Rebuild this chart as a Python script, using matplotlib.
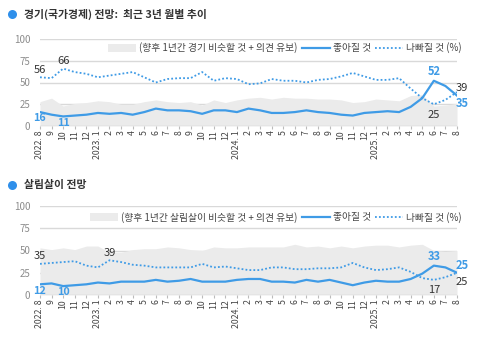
import matplotlib
matplotlib.use("Agg")
import matplotlib.pyplot as plt
from matplotlib.patches import Patch
from matplotlib.lines import Line2D

plt.rcParams['font.family'] = ['Noto Sans CJK KR', 'DejaVu Sans']

# month labels 2022.8 ~ 2025.8
months = ['2022. 8', '9', '10', '11', '12',
          '2023. 1', '2', '3', '4', '5', '6', '7', '8', '9', '10', '11', '12',
          '2024. 1', '2', '3', '4', '5', '6', '7', '8', '9', '10', '11', '12',
          '2025. 1', '2', '3', '4', '5', '6', '7', '8']

# 경기 전망
eco_good = [16, 13, 11, 12, 13, 15, 14, 15, 13, 16, 20, 18, 18, 17, 14, 18, 18, 16,
            20, 18, 15, 15, 16, 18, 16, 15, 13, 12, 15, 16, 17, 16, 22, 32, 52, 46, 35]
eco_bad = [56, 55, 66, 62, 60, 56, 58, 60, 62, 56, 50, 54, 55, 55, 62, 52, 55, 54,
           48, 49, 54, 52, 52, 50, 53, 54, 57, 61, 57, 53, 53, 55, 43, 32, 25, 30, 39]
eco_same = [28, 32, 23, 26, 27, 29, 28, 25, 25, 28, 30, 28, 27, 28, 24, 30, 27, 30,
            32, 33, 31, 33, 32, 32, 31, 31, 30, 27, 28, 31, 30, 29, 35, 36, 23, 24, 26]

# 살림살이 전망
life_good = [12, 13, 10, 11, 12, 14, 13, 15, 15, 15, 17, 15, 16, 18, 15, 15, 15, 17,
             18, 18, 15, 15, 14, 17, 15, 17, 14, 11, 14, 16, 15, 15, 18, 24, 33, 31, 25]
life_bad = [35, 36, 37, 38, 33, 31, 39, 37, 34, 33, 31, 31, 31, 31, 35, 31, 32, 30,
            28, 28, 31, 31, 29, 29, 30, 30, 31, 36, 31, 28, 29, 31, 26, 19, 17, 20, 25]
life_same = [53, 51, 53, 51, 55, 55, 48, 48, 51, 52, 52, 54, 53, 51, 50, 54, 53, 53,
             54, 54, 54, 54, 57, 54, 55, 53, 55, 53, 55, 56, 56, 54, 56, 57, 50, 49, 50]

BLUE = '#3f9be6'
GRAY_AREA = '#ebebeb'
DARK = '#333333'
DOTS = (0, (1, 1.2))

fig = plt.figure(figsize=(5, 3.42), dpi=100)


def draw_panel(ax, good, bad, same, same_label, labels_good, labels_bad, end_offsets, leg_y):
    x = list(range(len(months)))
    ax.fill_between(x, 0, same, color=GRAY_AREA, lw=0, zorder=1)
    for v in [25, 50, 75, 100]:
        ax.axhline(v, color='#d9d9d9', lw=1.0, zorder=0.5)
    ax.axhline(0, color='#cfcfcf', lw=1.0, zorder=2)
    ax.plot(x, good, color=BLUE, lw=1.6, zorder=4)
    ax.plot(x, bad, color=BLUE, lw=1.3, ls=DOTS, zorder=4)
    ax.set_xlim(0, len(months) - 1)
    ax.set_ylim(0, 100)
    ax.set_yticks([0, 25, 50, 75, 100])
    ax.tick_params(axis='y', length=0, labelsize=7, labelcolor='#8c8c8c', pad=7)
    ax.set_xticks(x)
    ax.set_xticklabels(months, rotation=90, fontsize=6.3, color='#444444')
    ax.tick_params(axis='x', length=2, color='#bbbbbb', pad=1)
    for s in ax.spines.values():
        s.set_visible(False)

    for i in labels_good:
        ax.annotate(str(good[i]), (i, good[i]), xytext=(0, -1), textcoords='offset points',
                    ha='center', va='top', color=BLUE, fontsize=7.8, fontweight='bold', zorder=6)
    for i in labels_bad:
        ax.annotate(str(bad[i]), (i, bad[i]), xytext=(0, 2), textcoords='offset points',
                    ha='center', va='bottom', color=DARK, fontsize=8, zorder=6)
    # peak month and last month labels
    n = len(months) - 1
    pk = 34
    ax.annotate(str(good[pk]), (pk, good[pk]), xytext=(0, 2), textcoords='offset points',
                ha='center', va='bottom', color=BLUE, fontsize=8, fontweight='bold', zorder=6)
    ax.annotate(str(bad[pk]), (pk, bad[pk]), xytext=(0, -4), textcoords='offset points',
                ha='center', va='top', color=DARK, fontsize=8, zorder=6)
    ax.annotate(str(bad[n]), (n, bad[n]), xytext=(-1, end_offsets[0]), textcoords='offset points',
                ha='left', va='center', color=DARK, fontsize=8, zorder=6)
    ax.annotate(str(good[n]), (n, good[n]), xytext=(-1, end_offsets[1]), textcoords='offset points',
                ha='left', va='center', color=BLUE, fontsize=8, fontweight='bold', zorder=6)

    handles = [Patch(facecolor=GRAY_AREA, edgecolor='none'),
               Line2D([], [], color=BLUE, lw=1.6),
               Line2D([], [], color=BLUE, lw=1.3, ls=DOTS)]
    ax.legend(handles, [same_label, '좋아질 것', '나빠질 것 (%)'], ncol=3, frameon=False,
              loc='center right', bbox_to_anchor=(1.012, leg_y), fontsize=7,
              borderpad=0, borderaxespad=0,
              handlelength=2.9, handleheight=0.9, handletextpad=0.3, columnspacing=0.45,
              labelcolor='#444444')


ax1 = fig.add_axes([40 / 500, 1 - 126 / 342, 417 / 500, 87 / 342])
draw_panel(ax1, eco_good, eco_bad, eco_same, '(향후 1년간 경기 비슷할 것 + 의견 유보)',
           [0, 2], [0, 2], (3, -6), 0.897)

ax2 = fig.add_axes([40 / 500, 1 - 295 / 342, 417 / 500, 89 / 342])
draw_panel(ax2, life_good, life_bad, life_same, '(향후 1년간 살림살이 비슷할 것 + 의견 유보)',
           [0, 2], [0, 6], (-7, 5), 0.876)

# panel titles
for ypix, title in [(14, '경기(국가경제) 전망:  최근 3년 월별 추이'), (185, '살림살이 전망')]:
    fig.add_artist(Line2D([12 / 500], [1 - ypix / 342], marker='o', ms=6.5, color='#2f8fea',
                          mec='none', transform=fig.transFigure))
    fig.text(24 / 500, 1 - ypix / 342, title, color=DARK, fontsize=7.8, fontweight='bold',
             va='center', ha='left')

fig.savefig('out.png', dpi=100)
